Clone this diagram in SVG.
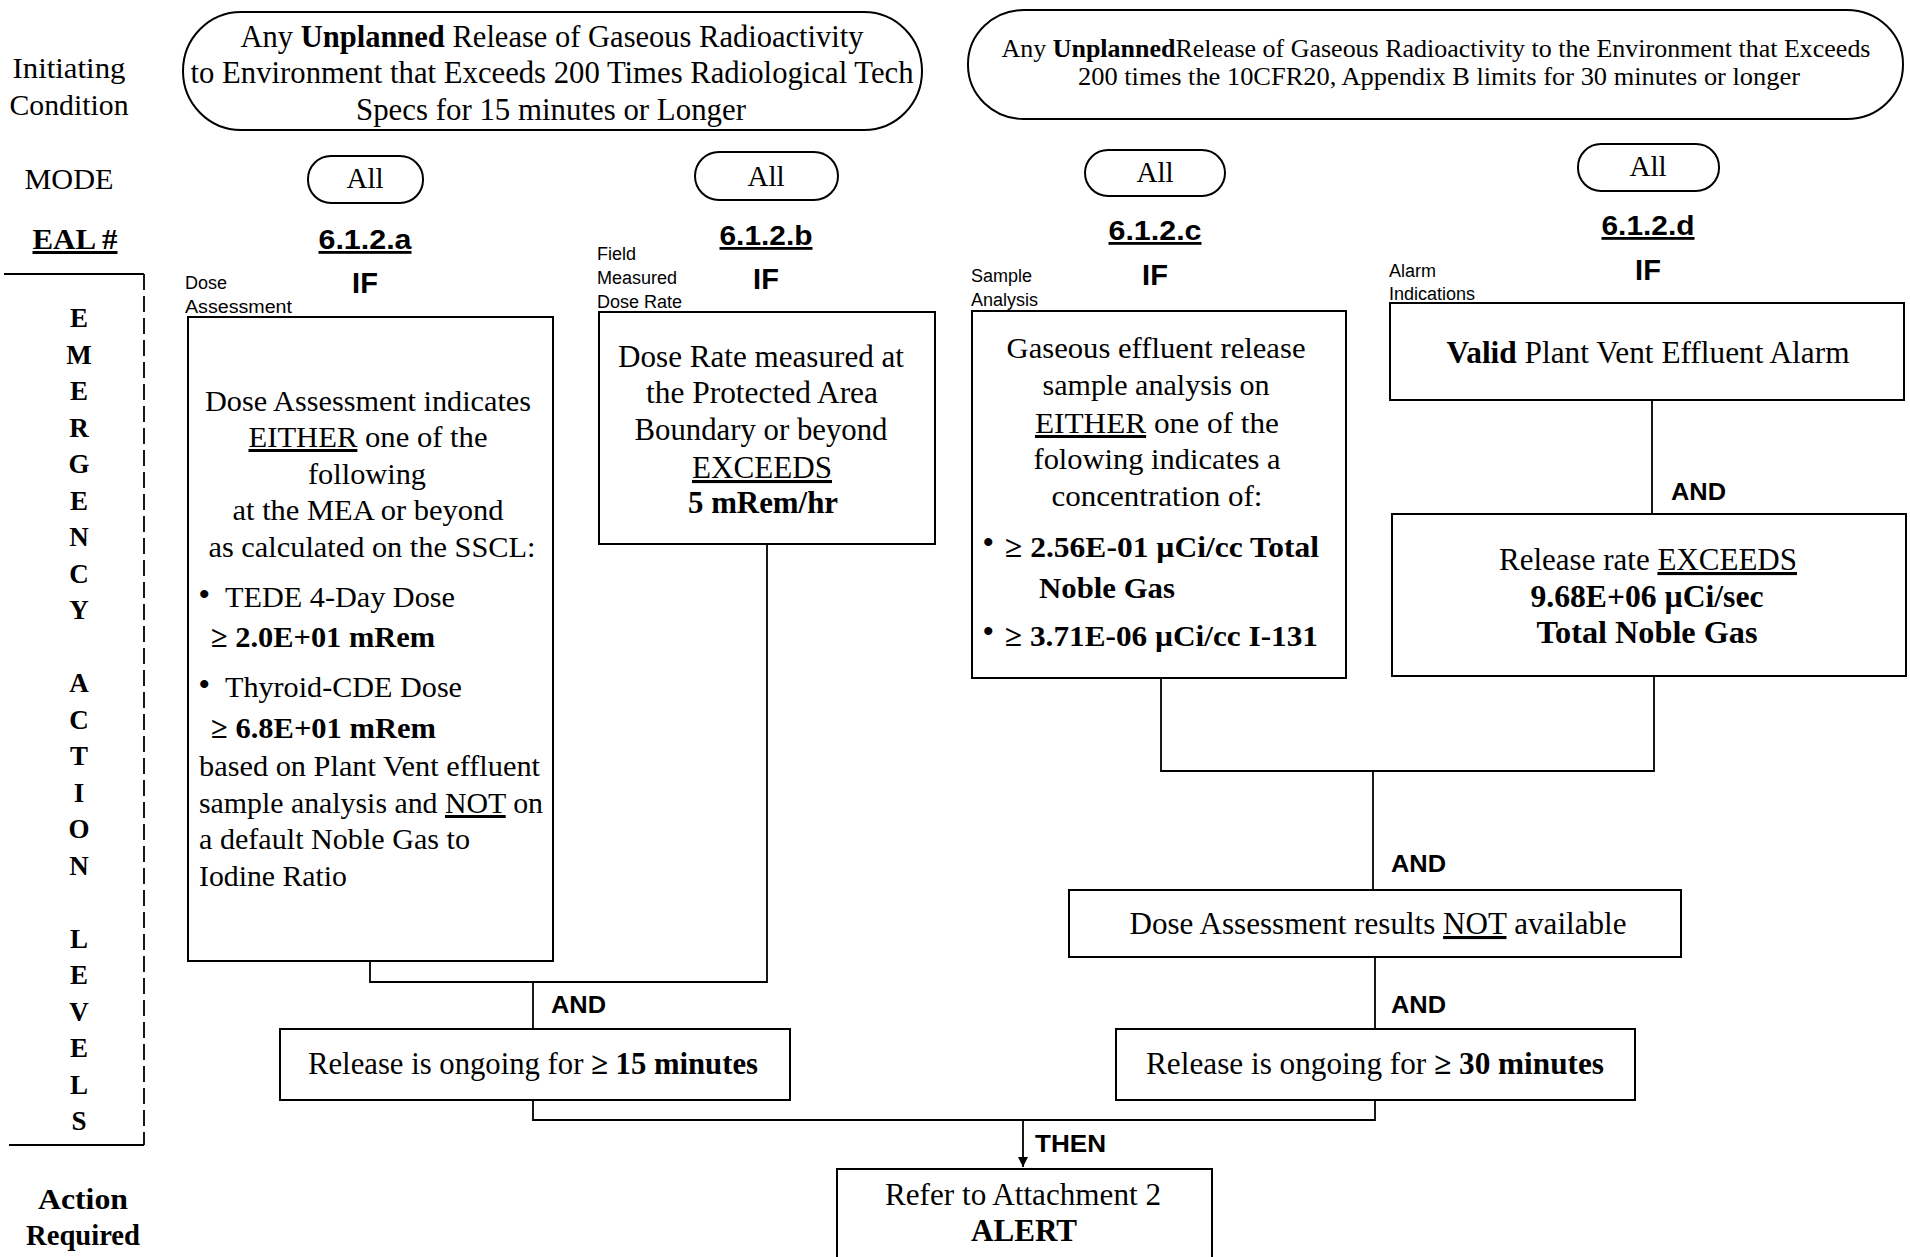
<svg xmlns="http://www.w3.org/2000/svg" width="1910" height="1257" viewBox="0 0 1910 1257">
<style>
.box{fill:#fff;stroke:#000;stroke-width:2}
.ln{fill:none;stroke:#000;stroke-width:1.8}
.s{font-family:"Liberation Serif","Times New Roman",serif;fill:#000}
.a{font-family:"Liberation Sans",Arial,sans-serif;font-weight:bold;fill:#000}
.sm{font-family:"Liberation Sans",Arial,sans-serif;fill:#000;font-size:18px}
.b{font-weight:bold}
.u{text-decoration:underline}
.c{text-anchor:middle}
.bul{font-family:"Liberation Serif","Times New Roman",serif;font-weight:bold;fill:#000;font-size:30px}
</style>
<defs>
<marker id="arr" markerWidth="12" markerHeight="12" refX="10" refY="5" orient="auto" markerUnits="userSpaceOnUse">
<path d="M0,0 L10,5 L0,10 Z" fill="#000"/>
</marker>
</defs>
<rect width="1910" height="1257" fill="#fff"/>

<g id="row-labels">
<text class="s c" x="69" y="78" font-size="30" textLength="113" lengthAdjust="spacingAndGlyphs">Initiating</text>
<text class="s c" x="69" y="115" font-size="30" textLength="119" lengthAdjust="spacingAndGlyphs">Condition</text>
<text class="s c" x="69" y="189" font-size="30" textLength="89" lengthAdjust="spacingAndGlyphs">MODE</text>
<text class="s c b u" x="75" y="249" font-size="30" textLength="85" lengthAdjust="spacingAndGlyphs">EAL #</text>
<text class="s c b" x="83" y="1209" font-size="29" textLength="90" lengthAdjust="spacingAndGlyphs">Action</text>
<text class="s c b" x="83" y="1245" font-size="29" textLength="114" lengthAdjust="spacingAndGlyphs">Required</text>
</g>

<g id="sidebar">
<path class="ln" d="M4,274 H144"/>
<path class="ln" d="M144,274 V1145" stroke-dasharray="16,6"/>
<path class="ln" d="M9,1145 H144"/>
<g class="s b c" font-size="27">
<text x="79" y="327">E</text>
<text x="79" y="364">M</text>
<text x="79" y="400">E</text>
<text x="79" y="437">R</text>
<text x="79" y="473">G</text>
<text x="79" y="510">E</text>
<text x="79" y="546">N</text>
<text x="79" y="583">C</text>
<text x="79" y="619">Y</text>
<text x="79" y="692">A</text>
<text x="79" y="729">C</text>
<text x="79" y="765">T</text>
<text x="79" y="802">I</text>
<text x="79" y="838">O</text>
<text x="79" y="875">N</text>
<text x="79" y="948">L</text>
<text x="79" y="984">E</text>
<text x="79" y="1021">V</text>
<text x="79" y="1057">E</text>
<text x="79" y="1094">L</text>
<text x="79" y="1130">S</text>
</g>
</g>

<g id="ic-left">
<rect class="box" x="183" y="12" width="739" height="118" rx="58" ry="59"/>
<text class="s c" x="552" y="47" font-size="31" textLength="623" lengthAdjust="spacingAndGlyphs">Any <tspan class="b">Unplanned</tspan> Release of Gaseous Radioactivity</text>
<text class="s c" x="552" y="83" font-size="31" textLength="723" lengthAdjust="spacingAndGlyphs">to Environment that Exceeds 200 Times Radiological Tech</text>
<text class="s c" x="551" y="120" font-size="31" textLength="390" lengthAdjust="spacingAndGlyphs">Specs for 15 minutes or Longer</text>
</g>

<g id="ic-right">
<rect class="box" x="968" y="10" width="935" height="109" rx="56" ry="54"/>
<text class="s c" x="1436" y="57" font-size="25" textLength="869" lengthAdjust="spacingAndGlyphs">Any <tspan class="b">Unplanned</tspan>Release of Gaseous Radioactivity to the Environment that Exceeds</text>
<text class="s c" x="1439" y="85" font-size="25" textLength="722" lengthAdjust="spacingAndGlyphs">200 times the 10CFR20, Appendix B limits for 30 minutes or longer</text>
</g>

<g id="mode-a"><rect class="box" x="308" y="156" width="115" height="47" rx="23"/><text class="s c" x="365" y="188" font-size="29">All</text></g>
<g id="mode-b"><rect class="box" x="695" y="152" width="143" height="48" rx="24"/><text class="s c" x="766" y="186" font-size="29">All</text></g>
<g id="mode-c"><rect class="box" x="1085" y="150" width="140" height="46" rx="23"/><text class="s c" x="1155" y="182" font-size="29">All</text></g>
<g id="mode-d"><rect class="box" x="1578" y="144" width="141" height="47" rx="23"/><text class="s c" x="1648" y="176" font-size="29">All</text></g>

<g id="eal-a"><text class="a c u" x="365" y="249" font-size="28" textLength="93" lengthAdjust="spacingAndGlyphs">6.1.2.a</text><text class="a c" x="365" y="293" font-size="29">IF</text></g>
<g id="eal-b"><text class="a c u" x="766" y="245" font-size="28" textLength="93" lengthAdjust="spacingAndGlyphs">6.1.2.b</text><text class="a c" x="766" y="289" font-size="29">IF</text></g>
<g id="eal-c"><text class="a c u" x="1155" y="240" font-size="28" textLength="93" lengthAdjust="spacingAndGlyphs">6.1.2.c</text><text class="a c" x="1155" y="285" font-size="29">IF</text></g>
<g id="eal-d"><text class="a c u" x="1648" y="235" font-size="28" textLength="93" lengthAdjust="spacingAndGlyphs">6.1.2.d</text><text class="a c" x="1648" y="280" font-size="29">IF</text></g>

<g id="cat-labels">
<text class="sm" x="185" y="289">Dose</text>
<text class="sm" x="185" y="313" textLength="107" lengthAdjust="spacingAndGlyphs">Assessment</text>
<text class="sm" x="597" y="260">Field</text>
<text class="sm" x="597" y="284">Measured</text>
<text class="sm" x="597" y="308">Dose Rate</text>
<text class="sm" x="971" y="282">Sample</text>
<text class="sm" x="971" y="306">Analysis</text>
<text class="sm" x="1389" y="277">Alarm</text>
<text class="sm" x="1389" y="300">Indications</text>
</g>

<g id="connectors">
<path class="ln" d="M370,961 V982 H767 V544"/>
<path class="ln" d="M533,982 V1029"/>
<path class="ln" d="M533,1100 V1120 H1375 V1100"/>
<path class="ln" d="M1023,1120 V1167" marker-end="url(#arr)"/>
<path class="ln" d="M1161,678 V771 H1654 V676"/>
<path class="ln" d="M1652,400 V514"/>
<path class="ln" d="M1373,771 V890"/>
<path class="ln" d="M1375,957 V1029"/>
<text class="a" x="551" y="1013" font-size="24" textLength="55" lengthAdjust="spacingAndGlyphs">AND</text>
<text class="a" x="1671" y="500" font-size="24" textLength="55" lengthAdjust="spacingAndGlyphs">AND</text>
<text class="a" x="1391" y="872" font-size="24" textLength="55" lengthAdjust="spacingAndGlyphs">AND</text>
<text class="a" x="1391" y="1013" font-size="24" textLength="55" lengthAdjust="spacingAndGlyphs">AND</text>
<text class="a" x="1035" y="1152" font-size="24" textLength="71" lengthAdjust="spacingAndGlyphs">THEN</text>
</g>

<g id="box-a">
<rect class="box" x="188" y="317" width="365" height="644"/>
<text class="s c" x="368" y="411" font-size="30" textLength="326" lengthAdjust="spacingAndGlyphs">Dose Assessment indicates</text>
<text class="s c" x="368" y="447" font-size="30" textLength="239" lengthAdjust="spacingAndGlyphs"><tspan class="u">EITHER</tspan> one of the</text>
<text class="s c" x="367" y="484" font-size="30" textLength="118" lengthAdjust="spacingAndGlyphs">following</text>
<text class="s c" x="368" y="520" font-size="30" textLength="271" lengthAdjust="spacingAndGlyphs">at the MEA or beyond</text>
<text class="s c" x="372" y="557" font-size="30" textLength="327" lengthAdjust="spacingAndGlyphs">as calculated on the SSCL:</text>
<text class="bul" x="199" y="604">•</text>
<text class="s" x="225" y="607" font-size="30" textLength="230" lengthAdjust="spacingAndGlyphs">TEDE 4-Day Dose</text>
<text class="s b" x="211" y="647" font-size="30" textLength="224" lengthAdjust="spacingAndGlyphs">≥ 2.0E+01 mRem</text>
<text class="bul" x="199" y="694">•</text>
<text class="s" x="225" y="697" font-size="30" textLength="237" lengthAdjust="spacingAndGlyphs">Thyroid-CDE Dose</text>
<text class="s b" x="211" y="738" font-size="30" textLength="225" lengthAdjust="spacingAndGlyphs">≥ 6.8E+01 mRem</text>
<text class="s" x="199" y="776" font-size="30" textLength="341" lengthAdjust="spacingAndGlyphs">based on Plant Vent effluent</text>
<text class="s" x="199" y="813" font-size="30" textLength="344" lengthAdjust="spacingAndGlyphs">sample analysis and <tspan class="u">NOT</tspan> on</text>
<text class="s" x="199" y="849" font-size="30" textLength="271" lengthAdjust="spacingAndGlyphs">a default Noble Gas to</text>
<text class="s" x="199" y="886" font-size="30" textLength="148" lengthAdjust="spacingAndGlyphs">Iodine Ratio</text>
</g>

<g id="box-b">
<rect class="box" x="599" y="312" width="336" height="232"/>
<text class="s c" x="761" y="367" font-size="31" textLength="286" lengthAdjust="spacingAndGlyphs">Dose Rate measured at</text>
<text class="s c" x="762" y="403" font-size="31" textLength="232" lengthAdjust="spacingAndGlyphs">the Protected Area</text>
<text class="s c" x="761" y="440" font-size="31" textLength="253" lengthAdjust="spacingAndGlyphs">Boundary or beyond</text>
<text class="s c u" x="762" y="478" font-size="31" textLength="140" lengthAdjust="spacingAndGlyphs">EXCEEDS</text>
<text class="s c b" x="763" y="513" font-size="31" textLength="150" lengthAdjust="spacingAndGlyphs">5 mRem/hr</text>
</g>

<g id="box-c">
<rect class="box" x="972" y="311" width="374" height="367"/>
<text class="s c" x="1156" y="358" font-size="30" textLength="299" lengthAdjust="spacingAndGlyphs">Gaseous effluent release</text>
<text class="s c" x="1156" y="395" font-size="30" textLength="227" lengthAdjust="spacingAndGlyphs">sample analysis on</text>
<text class="s c" x="1157" y="433" font-size="30" textLength="244" lengthAdjust="spacingAndGlyphs"><tspan class="u">EITHER</tspan> one of the</text>
<text class="s c" x="1157" y="469" font-size="30" textLength="247" lengthAdjust="spacingAndGlyphs">folowing indicates a</text>
<text class="s c" x="1157" y="506" font-size="30" textLength="211" lengthAdjust="spacingAndGlyphs">concentration of:</text>
<text class="bul" x="983" y="552">•</text>
<text class="s b" x="1005" y="557" font-size="30" textLength="314" lengthAdjust="spacingAndGlyphs">≥ 2.56E-01 µCi/cc Total</text>
<text class="s b" x="1039" y="598" font-size="30" textLength="136" lengthAdjust="spacingAndGlyphs">Noble Gas</text>
<text class="bul" x="983" y="641">•</text>
<text class="s b" x="1005" y="646" font-size="30" textLength="313" lengthAdjust="spacingAndGlyphs">≥ 3.71E-06 µCi/cc I-131</text>
</g>

<g id="box-d1">
<rect class="box" x="1390" y="303" width="514" height="97"/>
<text class="s c" x="1648" y="363" font-size="31" textLength="403" lengthAdjust="spacingAndGlyphs"><tspan class="b">Valid</tspan> Plant Vent Effluent Alarm</text>
</g>

<g id="box-d2">
<rect class="box" x="1392" y="514" width="514" height="162"/>
<text class="s c" x="1648" y="570" font-size="31" textLength="298" lengthAdjust="spacingAndGlyphs">Release rate <tspan class="u">EXCEEDS</tspan></text>
<text class="s c b" x="1647" y="607" font-size="31" textLength="233" lengthAdjust="spacingAndGlyphs">9.68E+06 µCi/sec</text>
<text class="s c b" x="1647" y="643" font-size="31" textLength="221" lengthAdjust="spacingAndGlyphs">Total Noble Gas</text>
</g>

<g id="box-dose-na">
<rect class="box" x="1069" y="890" width="612" height="67"/>
<text class="s c" x="1378" y="934" font-size="31" textLength="497" lengthAdjust="spacingAndGlyphs">Dose Assessment results <tspan class="u">NOT</tspan> available</text>
</g>

<g id="box-release-15">
<rect class="box" x="280" y="1029" width="510" height="71"/>
<text class="s c" x="533" y="1074" font-size="31" textLength="450" lengthAdjust="spacingAndGlyphs">Release is ongoing for <tspan class="b">≥ 15 minutes</tspan></text>
</g>

<g id="box-release-30">
<rect class="box" x="1116" y="1029" width="519" height="71"/>
<text class="s c" x="1375" y="1074" font-size="31" textLength="458" lengthAdjust="spacingAndGlyphs">Release is ongoing for <tspan class="b">≥ 30 minutes</tspan></text>
</g>

<g id="box-alert">
<rect class="box" x="837" y="1169" width="375" height="100"/>
<text class="s c" x="1023" y="1205" font-size="31" textLength="276" lengthAdjust="spacingAndGlyphs">Refer to Attachment 2</text>
<text class="s c b" x="1024" y="1241" font-size="31" textLength="106" lengthAdjust="spacingAndGlyphs">ALERT</text>
</g>
</svg>
